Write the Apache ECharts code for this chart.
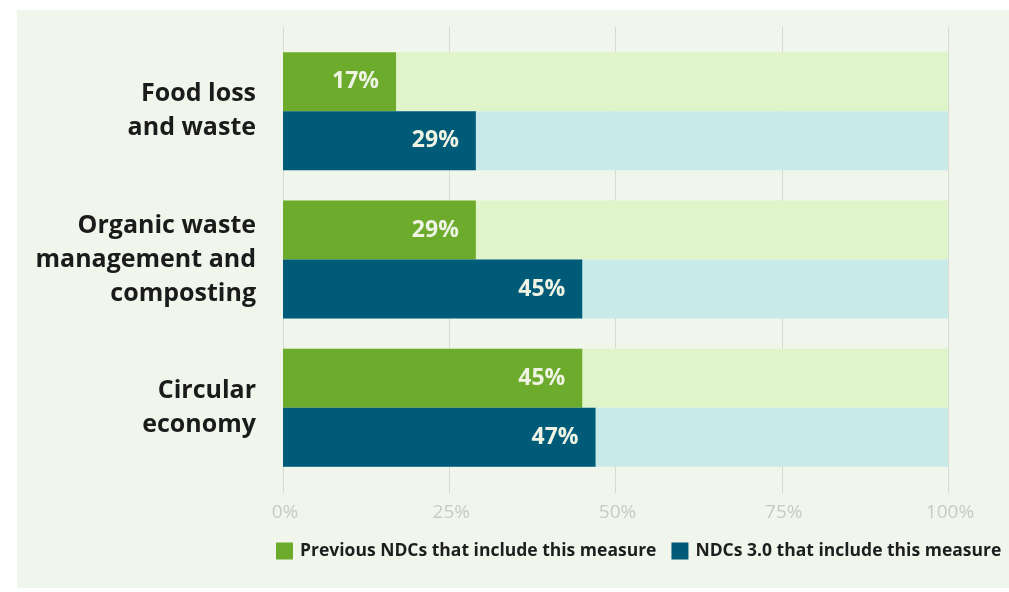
<!DOCTYPE html>
<html>
<head>
<meta charset="utf-8">
<script src="https://cdn.jsdelivr.net/npm/echarts@6/dist/echarts.min.js"></script>
<style>
  html, body { margin: 0; padding: 0; background: #fff; }
  #chart { width: 1009px; height: 592px; }
</style>
</head>
<body>
<div id="chart"></div>
<script>
// categories, top to bottom
var categories = ['Food loss\nand waste', 'Organic waste\nmanagement and\ncomposting', 'Circular\neconomy'];
var previousNdcs = [17, 29, 45];
var ndcs30 = [29, 45, 47];
var xTicks = [0, 25, 50, 75, 100];
var seriesNames = ['Previous NDCs that include this measure', 'NDCs 3.0 that include this measure'];

var myChart = echarts.init(document.getElementById('chart'));

var valueLabel = {
	show : true,
	position : 'insideRight',
	distance : 17,
	formatter : '{c}%',
	color : '#eef3e4',
	fontSize : 23,
	fontWeight : 'bold',
	fontFamily : 'Open Sans'
};

var option = {
	backgroundColor : '#ffffff',
	animation : false,
	graphic : [ {
		type : 'rect',
		shape : { x : 17, y : 10, width : 992, height : 578 },
		style : { fill : '#f1f6ec' },
		z : -10
	} ],
	grid : [ {
		left : 283, right : 61, top : 37, bottom : 110
	}, {
		left : 283, right : 61, top : 27, bottom : 99
	} ],
	xAxis : [ {
		gridIndex : 0,
		type : 'value', min : xTicks[0], max : xTicks[xTicks.length - 1], interval : 25,
		show : false
	}, {
		gridIndex : 1,
		type : 'value', min : xTicks[0], max : xTicks[xTicks.length - 1], interval : 25,
		axisLine : { show : false },
		axisTick : { show : false },
		splitLine : { lineStyle : { color : '#d6dad1', width : 1 } },
		axisLabel : {
			formatter : '{value}%',
			color : '#c6ccc1',
			fontSize : 19,
			fontFamily : 'Open Sans',
			margin : 10,
			padding : [0, 0, 0, 4]
		}
	} ],
	yAxis : [ {
		gridIndex : 0,
		type : 'category',
		data : categories,
		inverse : true,
		axisLine : { show : false },
		axisTick : { show : false },
		axisLabel : {
			color : '#1b1b1b',
			fontSize : 25,
			fontWeight : 'bold',
			fontFamily : 'Open Sans',
			lineHeight : 34,
			margin : 27,
			align : 'right'
		}
	}, {
		gridIndex : 1,
		type : 'value',
		show : false
	} ],
	legend : {
		data : seriesNames,
		left : 276,
		top : 542,
		width : 733,
		padding : 0,
		itemWidth : 17,
		itemHeight : 17,
		itemGap : 15,
		icon : 'rect',
		textStyle : {
			color : '#1e1e1e',
			fontSize : 17.5,
			fontWeight : 'bold',
			fontFamily : 'Open Sans',
			padding : [0, 0, 0, 2]
		}
	},
	series : [ {
		name : seriesNames[0],
		type : 'bar',
		data : previousNdcs,
		barGap : '0%',
		barCategoryGap : '20.5%',
		itemStyle : { color : '#6dab2d' },
		showBackground : true,
		backgroundStyle : { color : '#dff4c8' },
		label : valueLabel
	}, {
		name : seriesNames[1],
		type : 'bar',
		data : ndcs30,
		barGap : '0%',
		barCategoryGap : '20.5%',
		itemStyle : { color : '#005b78' },
		showBackground : true,
		backgroundStyle : { color : '#c8ebea' },
		label : valueLabel
	} ]
};

myChart.setOption(option);
</script>
</body>
</html>
